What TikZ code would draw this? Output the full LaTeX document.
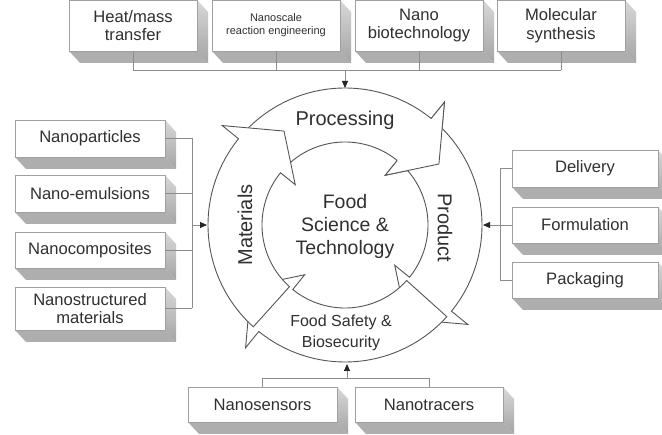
\documentclass[tikz,border=0pt]{standalone}
\usepackage{fontspec}
\setmainfont{Liberation Sans}
\usetikzlibrary{arrows.meta}
\definecolor{txt}{HTML}{303030}
\definecolor{botgray}{HTML}{AEAEAE}
\definecolor{sidetop}{HTML}{D8D8D8}
\definecolor{sidebot}{HTML}{A4A4A4}
\definecolor{edgegray}{HTML}{A0A0A0}
\definecolor{conngray}{HTML}{8C8C8C}
\definecolor{ringgray}{HTML}{555555}
\newcommand\boxthree[7]{%
  \pgfmathsetmacro\bxL{#2-#4/2}\pgfmathsetmacro\bxR{#2+#4/2}%
  \pgfmathsetmacro\bxT{#3-#5/2}\pgfmathsetmacro\bxB{#3+#5/2}%
  \fill[botgray] (\bxL,\bxB) -- (\bxR,\bxB) -- ++(11,12) -- ++(-#4,0) -- cycle;
  \shade[top color=sidetop,bottom color=sidebot] (\bxR,\bxT) -- ++(11,12) -- ++(0,#5) -- ++(-11,-12) -- cycle;
  \node[facebox,minimum width=#4pt,minimum height=#5pt,font=#6] (#1) at (#2,#3) {#7};
}
\newcommand\ringarr[1]{%
  \pgfmathsetmacro\ringB{#1}\pgfmathsetmacro\ringT{#1-87}\pgfmathsetmacro\ringH{#1+18}%
  \filldraw[ringline,fill=white] plot[domain=\ringT:\ringB,samples=50] (\x:137) -- (\ringB:158) -- (\ringH:112) -- (\ringB:64) -- plot[domain=\ringB:\ringT,samples=50] (\x:83) -- cycle;
}
\newcommand\bigfont{\fontsize{16.6}{18.5}\selectfont}
\newcommand\smallfont{\fontsize{11}{13}\selectfont}
\newcommand\ringfont{\fontsize{20}{23}\selectfont}
\newcommand\centerfont{\fontsize{19.5}{23}\selectfont}
\newcommand\safefont{\fontsize{16}{21}\selectfont}
\begin{document}
\begin{tikzpicture}[x=1pt,y=-1pt,
  facebox/.style={draw=edgegray,line width=0.6pt,fill=white,inner sep=0pt,align=center,text=txt},
  conn/.style={draw=conngray,line width=0.8pt},
  tip/.style={-{Triangle[length=7pt,width=6pt,color=black!85]}},
  ringline/.style={draw=ringgray,line width=0.9pt,line join=miter},
  lbl/.style={text=txt,inner sep=0pt,align=center}]
\useasboundingbox (0,0) rectangle (662,435);
\clip (0,0) rectangle (662,435);
\fill[white] (0,0) rectangle (662,435);

% top boxes
\boxthree{heat}{133}{25.5}{128}{51}{\bigfont}{Heat/mass\\transfer}
\boxthree{nsre}{276}{25.5}{128}{51}{\smallfont}{Nanoscale\\reaction engineering}
\boxthree{nbio}{419}{25.5}{128}{51}{\bigfont}{Nano\\biotechnology}
\boxthree{msyn}{561}{25.5}{128}{51}{\bigfont}{Molecular\\synthesis}

% left boxes
\boxthree{npart}{90}{138.5}{150}{37}{\bigfont}{Nanoparticles}
\boxthree{nemul}{90}{193.5}{150}{37}{\bigfont}{Nano-emulsions}
\boxthree{ncomp}{90}{250}{150}{36}{\bigfont}{Nanocomposites}
\boxthree{nstru}{90}{308.5}{150}{43}{\bigfont}{Nanostructured\\materials}

% right boxes
\boxthree{deliv}{585}{168.5}{146}{37}{\bigfont}{Delivery}
\boxthree{formu}{585}{225}{146}{36}{\bigfont}{Formulation}
\boxthree{packa}{585}{280}{146}{36}{\bigfont}{Packaging}

% bottom boxes
\boxthree{nsens}{262.5}{404.5}{149}{35}{\bigfont}{Nanosensors}
\boxthree{ntrac}{429}{404.5}{148}{35}{\bigfont}{Nanotracers}

% ring
\begin{scope}[shift={(345,225)}]
  \ringarr{309}
  \ringarr{39}
  \ringarr{129}
  \ringarr{219}
  \fill[white] (309:158) -- (327:112) -- (309:64) -- cycle;
  \draw[ringline] (309:137) -- (309:158) -- (327:112) -- (309:64) -- (309:83);
\end{scope}

% ring labels
\node[lbl,font=\ringfont] (proc) at (345,120) {Processing};
\node[lbl,font=\ringfont,rotate=-90] (prod) at (445,228) {Product};
\node[lbl,font=\ringfont,rotate=90] (mate) at (245,225) {Materials};
\node[lbl,font=\safefont] (safe) at (341,333) {Food Safety \&\\Biosecurity};
\node[lbl,font=\centerfont] (fst) at (345,226) {Food\\Science \&\\Technology};

% connector ends on ring
\coordinate (ringT) at (345,88);
\coordinate (ringL) at (207,225);
\coordinate (ringR) at (483,225);
\coordinate (ringBo) at (347,364);
\coordinate (busT) at (345,70);
\coordinate (busL) at (192,225);
\coordinate (busR) at (500,225);
\coordinate (busB) at (347,378);

% top connectors
\foreach \n in {heat,nsre,nbio,msyn} \draw[conn] (\n.south) -- (\n.south |- busT);
\draw[conn] (heat.south |- busT) -- (msyn.south |- busT);
\draw[conn,tip] (busT) -- (ringT);

% left connectors
\foreach \n in {npart,nemul,ncomp,nstru} \draw[conn] (\n.east) -- (\n.east -| busL);
\draw[conn] (npart.east -| busL) -- (nstru.east -| busL);
\draw[conn,tip] (busL) -- (ringL);

% right connectors
\foreach \n in {deliv,formu,packa} \draw[conn] (\n.west) -- (\n.west -| busR);
\draw[conn] (deliv.west -| busR) -- (packa.west -| busR);
\draw[conn,tip] (busR) -- (ringR);

% bottom connectors
\foreach \n in {nsens,ntrac} \draw[conn] (\n.north) -- (\n.north |- busB);
\draw[conn] (nsens.north |- busB) -- (ntrac.north |- busB);
\draw[conn,tip] (busB) -- (ringBo);
\end{tikzpicture}
\end{document}
